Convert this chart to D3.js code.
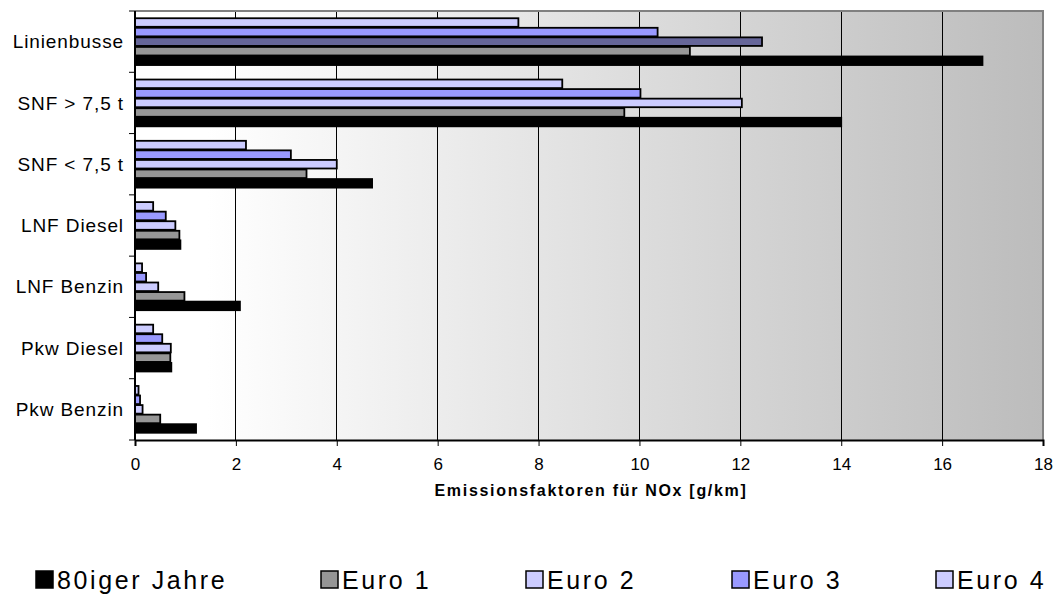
<!DOCTYPE html>
<html><head><meta charset="utf-8">
<script src="https://cdn.jsdelivr.net/npm/d3@7"></script>
<style>body{margin:0;background:#fff}svg{display:block;font-family:Arial,"Liberation Sans",sans-serif}</style>
</head><body><svg id="c" width="1058" height="594"></svg>
<script>
const categories = ["Linienbusse","SNF > 7,5 t","SNF < 7,5 t","LNF Diesel","LNF Benzin","Pkw Diesel","Pkw Benzin"];
const seriesNames = ["80iger Jahre","Euro 1","Euro 2","Euro 3","Euro 4"];
const v80 =   [16.8, 14.0, 4.7, 0.9, 2.08, 0.72, 1.21];
const euro1 = [11.0, 9.7, 3.4, 0.88, 0.98, 0.7, 0.5];
const euro2 = [12.43, 12.03, 4.0, 0.8, 0.46, 0.71, 0.15];
const euro3 = [10.36, 10.02, 3.09, 0.61, 0.22, 0.54, 0.1];
const euro4 = [7.6, 8.47, 2.2, 0.36, 0.14, 0.36, 0.07];
const xTicks = [0,2,4,6,8,10,12,14,16,18];
const seriesColors = ["#000000","#969696","#CCCCFF","#9999FF","#CCCCFF"];
const specialColor = {"Euro 2|Linienbusse":"#666699"};
const values = [v80, euro1, euro2, euro3, euro4];

const svg = d3.select("#c");
const L=135,R=1043,T=11,B=440;
const x = d3.scaleLinear().domain([0,18]).range([L,R]);
const y = d3.scaleBand().domain(categories).range([T,B]).paddingInner(0.22).paddingOuter(0.11);
const stackOrder = seriesNames.slice().reverse(); // Euro 4 on top
const yi = d3.scaleBand().domain(stackOrder).range([0,y.bandwidth()]);

const defs = svg.append("defs");
const g = defs.append("linearGradient").attr("id","bg").attr("x1","0").attr("x2","1").attr("y1","0").attr("y2","0");
g.append("stop").attr("offset","0").attr("stop-color","#ffffff");
g.append("stop").attr("offset","0.08").attr("stop-color","#ffffff");
g.append("stop").attr("offset","1").attr("stop-color","#bcbcbc");
svg.append("rect").attr("x",L).attr("y",T).attr("width",R-L).attr("height",B-T).attr("fill","url(#bg)");

// grid
svg.append("g").selectAll("line").data(xTicks.filter(t=>t>0&&t<18)).join("line")
  .attr("x1",d=>x(d)).attr("x2",d=>x(d)).attr("y1",T).attr("y2",B)
  .attr("stroke","#000").attr("stroke-width",1).attr("shape-rendering","crispEdges");
// top/right border
svg.append("path").attr("d",`M${L},${T}H${R}V${B}`).attr("fill","none").attr("stroke","#808080").attr("stroke-width",2);

// bars
const data=[];
seriesNames.forEach((s,si)=>categories.forEach((c,ci)=>data.push({s,c,v:values[si][ci],col:specialColor[s+"|"+c]||seriesColors[si]})));
svg.append("g").selectAll("rect").data(data).join("rect")
  .attr("x",x(0)).attr("y",d=>y(d.c)+yi(d.s)+0.5)
  .attr("width",d=>x(d.v)-x(0)).attr("height",yi.bandwidth()-1)
  .attr("fill",d=>d.col).attr("stroke","#000").attr("stroke-width",1.8);

// axes
const xa = svg.append("g").attr("transform",`translate(0,${B})`)
  .call(d3.axisBottom(x).tickValues(xTicks).tickSize(6).tickPadding(12).tickFormat(d3.format("d")));
xa.select(".domain").attr("stroke-width",2);
xa.selectAll("text").attr("font-size",17).attr("font-family","Arial, 'Liberation Sans', sans-serif").attr("fill","#000");

const ya = svg.append("g").attr("transform",`translate(${L},0)`);
ya.append("line").attr("x1",0).attr("x2",0).attr("y1",T).attr("y2",B).attr("stroke","#000").attr("stroke-width",2);
const bounds = categories.map(c=>y(c)-y.step()*y.paddingInner()/2).concat([B]);
bounds[0]=T;
ya.selectAll("line.t").data(bounds).join("line").attr("class","t")
  .attr("x1",-6).attr("x2",0).attr("y1",d=>d).attr("y2",d=>d).attr("stroke","#000").attr("stroke-width",1);
ya.selectAll("text").data(categories).join("text")
  .attr("x",-11).attr("y",d=>y(d)+y.bandwidth()/2).attr("dy","0.35em")
  .attr("text-anchor","end").attr("font-size",19).attr("letter-spacing","0.9px").text(d=>d);

svg.append("text").attr("x",(L+R)/2+2).attr("y",496).attr("text-anchor","middle")
  .attr("font-size",16).attr("font-weight","bold").attr("letter-spacing","1.7px").text("Emissionsfaktoren für NOx [g/km]");

// legend
const legPos = [35,320,525,731,935];
const lg = svg.append("g").selectAll("g").data(seriesNames).join("g")
  .attr("transform",(d,i)=>`translate(${legPos[i]},570)`);
lg.append("rect").attr("x",1).attr("y",1).attr("width",17).attr("height",17)
  .attr("fill",(d,i)=>seriesColors[i]).attr("stroke","#000").attr("stroke-width",1.5);
lg.append("text").attr("x",22).attr("y",18.5).attr("font-size",25).attr("letter-spacing","2.6px").text(d=>d);
</script></body></html>
